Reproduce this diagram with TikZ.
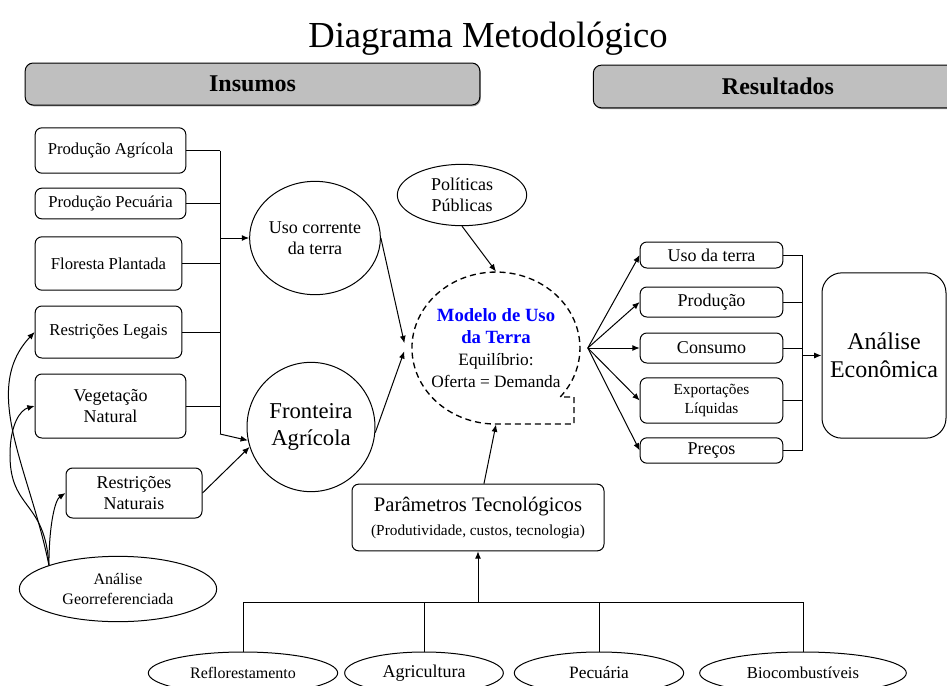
\documentclass[tikz,border=0pt]{standalone}
\usepackage{fontspec}
\setmainfont{Liberation Serif}
\usetikzlibrary{arrows.meta, shapes.geometric, shadows}

\begin{document}
\begin{tikzpicture}[x=0.75pt, y=-0.75pt, line width=0.75pt, >={Latex[length=5.5pt, width=4.5pt]},
  caixa/.style={draw, rounded corners=5pt, align=center, inner sep=1pt, font=\fontsize{12.5}{15}\selectfont},
  cabec/.style={draw, rounded corners=6pt, fill=black!25, drop shadow={shadow xshift=0.8pt, shadow yshift=-1pt, opacity=0.8}, font=\fontsize{18}{20}\selectfont\bfseries},
  bolha/.style={draw, ellipse, align=center, inner sep=0pt}]
\useasboundingbox (0,0) rectangle (947,686);
\node[font=\fontsize{27.5}{30}\selectfont] (titulo) at (488,39) {Diagrama Metodológico};
\node[cabec, minimum width=341pt, minimum height=31.5pt] (insumos) at (252.5,84) {Insumos};
\node[cabec, minimum width=277pt, minimum height=32pt] (resultados) at (778,86.5) {Resultados};
\node[caixa, minimum width=113pt, minimum height=34pt] (pagr) at (110.5,150.5) {Produção Agrícola};
\node[caixa, minimum width=113pt, minimum height=23pt] (ppec) at (110.5,203.5) {Produção Pecuária};
\node[caixa, minimum width=110pt, minimum height=40pt] (flor) at (108.5,263.5) {Floresta Plantada};
\node[caixa, minimum width=110pt, minimum height=39pt] (rleg) at (108.5,332) {Restrições Legais};
\node[caixa, minimum width=113pt, minimum height=48pt, font=\fontsize{13.5}{16}\selectfont] (veg) at (110.5,406) {Vegetação\\Natural};
\node[caixa, minimum width=102pt, minimum height=37.5pt, font=\fontsize{13.5}{16}\selectfont] (rnat) at (134,493) {Restrições\\Naturais};
\node[bolha, minimum width=148pt, minimum height=49pt, font=\fontsize{12}{15}\selectfont] (geo) at (118,589) {Análise\\Georreferenciada};
\node[bolha, minimum width=92pt, minimum height=85pt, font=\fontsize{13.5}{16}\selectfont] (uso) at (315,238) {Uso corrente\\da terra};
\node[bolha, minimum width=96pt, minimum height=97pt, font=\fontsize{17}{20}\selectfont] (front) at (311,427) {Fronteira\\Agrícola};
\node[bolha, minimum width=97pt, minimum height=46pt, font=\fontsize{13.5}{16}\selectfont] (polit) at (462,195) {Políticas\\Públicas};
\node[ellipse, minimum width=126pt, minimum height=114pt, align=center, inner sep=0pt, font=\fontsize{13}{16.5}\selectfont] (modelo) at (496,348) {\textcolor{blue}{\fontsize{14}{16.5}\selectfont\bfseries Modelo de Uso}\\\textcolor{blue}{\fontsize{14}{16.5}\selectfont\bfseries da Terra}\\Equilíbrio:\\Oferta = Demanda};
\draw[dashed, dash pattern=on 4.5pt off 3pt, line width=1pt] (560.3,396.9) arc[start angle=40, end angle=-270, x radius=84, y radius=76] -- (574,424) -- (574,397) -- cycle;
\node[caixa, minimum width=189pt, minimum height=50pt, font=\fontsize{15.5}{18}\selectfont] (param) at (478,517.5) {Parâmetros Tecnológicos\\{\fontsize{11.5}{13}\selectfont (Produtividade, custos, tecnologia)}};
\node[caixa, minimum width=107pt, minimum height=19.5pt, font=\fontsize{13.5}{16}\selectfont] (rusot) at (711.5,255) {Uso da terra};
\node[caixa, minimum width=107pt, minimum height=22.5pt, font=\fontsize{13.5}{16}\selectfont] (rprod) at (711.5,302) {Produção};
\node[caixa, minimum width=107pt, minimum height=22.5pt, font=\fontsize{13.5}{16}\selectfont] (rcons) at (711.5,348) {Consumo};
\node[caixa, minimum width=107pt, minimum height=34pt, font=\fontsize{11.5}{14}\selectfont] (rexp) at (711.5,400.5) {Exportações\\Líquidas};
\node[caixa, minimum width=107pt, minimum height=19pt, font=\fontsize{13.5}{16}\selectfont] (rprec) at (711.5,450.5) {Preços};
\node[caixa, rounded corners=15pt, minimum width=93pt, minimum height=124pt, font=\fontsize{18}{21}\selectfont] (anec) at (884,355.5) {Análise\\Econômica};
\node[bolha, minimum width=142pt, minimum height=31.5pt, font=\fontsize{12}{14}\selectfont] (reflo) at (243,673) {Reflorestamento};
\node[bolha, minimum width=119pt, minimum height=31.5pt, font=\fontsize{13.5}{16}\selectfont] (agri) at (424,673) {Agricultura};
\node[bolha, minimum width=127pt, minimum height=31.5pt, font=\fontsize{13}{15}\selectfont] (pec) at (599,673) {Pecuária};
\node[bolha, minimum width=155pt, minimum height=31.5pt, font=\fontsize{12.5}{15}\selectfont] (bio) at (803,673) {Biocombustíveis};
\coordinate (barra) at (220,0);
\coordinate (bi) at (220,434);
\foreach \n in {pagr, ppec, flor, rleg, veg}
  \draw (\n.east) -- (\n.east -| barra);
\draw (pagr.east -| barra) -- (bi);
\draw[->] (uso.west -| barra) -- (uso.west);
\draw[->] (bi) -- (front.192);
\draw[->] (rnat.east) -- (front.198);
\draw[->] (geo.161) .. controls (30,470) and (-20,390) .. (rleg.west);
\draw[->] (geo.161) .. controls (45,500) and (10,510) .. (10,455) .. controls (10,425) and (20,410) .. (veg.west);
\draw[->] (geo.161) .. controls (49,525) and (55,500) .. (rnat.west);
\draw[->] (uso.east) -- (modelo.177);
\draw[->] (front.-5) -- (modelo.182);
\draw[->] (polit.south) -- (modelo.north);
\draw[->] (param.80) -- (modelo.south);
\foreach \r in {rusot, rprod, rcons, rexp, rprec}
  \draw[->] (modelo.east) -- (\r.west);
\coordinate (barra2) at (802,0);
\foreach \r in {rusot, rprod, rcons, rexp, rprec}
  \draw (\r.east) -- (\r.east -| barra2);
\draw (rusot.east -| barra2) -- (rprec.east -| barra2);
\draw[->] (anec.west -| barra2) -- (anec.west);
\coordinate (t) at (param.south |- 0,602);
\draw (reflo.north) |- (bio.north |- t) -- (bio.north);
\draw (agri.north) -- (agri.north |- t);
\draw (pec.north) -- (pec.north |- t);
\draw[->] (t) -- (param.south);
\end{tikzpicture}
\end{document}
